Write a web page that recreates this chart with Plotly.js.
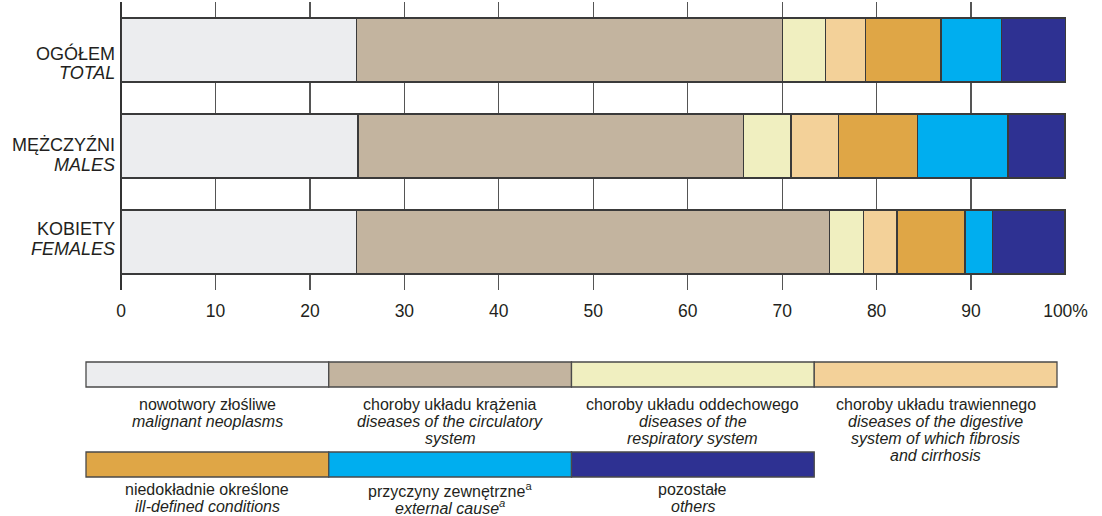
<!DOCTYPE html>
<html>
<head>
<meta charset="utf-8">
<script src="https://cdn.plot.ly/plotly-3.0.1.min.js"></script>
<style>
html,body{margin:0;padding:0;background:#fff;}
#chart{width:1102px;height:516px;}
</style>
</head>
<body>
<div id="chart"></div>
<script>
// ---- data ----
const categoriesPL = ['OGÓŁEM', 'MĘŻCZYŹNI', 'KOBIETY'];
const categoriesEN = ['TOTAL', 'MALES', 'FEMALES'];

const seriesPL = [
  'nowotwory złośliwe',
  'choroby układu krążenia',
  'choroby układu oddechowego',
  'choroby układu trawiennego',
  'niedokładnie określone',
  'przyczyny zewnętrzne<sup>a</sup>',
  'pozostałe'
];
const seriesEN = [
  ['malignant neoplasms'],
  ['diseases of the circulatory', 'system'],
  ['diseases of the', 'respiratory system'],
  ['diseases of the digestive', 'system of which fibrosis', 'and cirrhosis'],
  ['ill-defined conditions'],
  ['external cause<sup>a</sup>'],
  ['others']
];

// values per series: [total, males, females] in %
const neoplasms   = [24.9, 25.1, 24.9];
const circulatory = [45.1, 40.8, 50.1];
const respiratory = [4.55, 5.05, 3.6];
const digestive   = [4.3, 5.05, 3.55];
const illDefined  = [7.95, 8.35, 7.2];
const external    = [6.45, 9.55, 2.9];
const others      = [6.75, 6.05, 7.7];
const seriesValues = [neoplasms, circulatory, respiratory, digestive, illDefined, external, others];

const xTickVals = [0, 10, 20, 30, 40, 50, 60, 70, 80, 90, 100];
const xTickText = ['0', '10', '20', '30', '40', '50', '60', '70', '80', '90', '100%'];

// ---- styles ----
const colors = ['#ECEDEF', '#C3B49F', '#F0EFC0', '#F3D199', '#DFA646', '#00AEEF', '#2E3192'];
const FONT = 'Liberation Sans, Arial, Helvetica, sans-serif';
const TXT = '#231F20';

const W = 1102, H = 516;
const L = 121, R = 36, T = 2, B = 226;
const PW = W - L - R, PH = H - T - B;
const px2x = px => (px - L) / PW;
const py2y = py => (H - B - py) / PH;

const traces = seriesValues.map((vals, i) => ({
  type: 'bar',
  orientation: 'h',
  y: categoriesPL,
  x: vals,
  name: seriesPL[i],
  marker: {color: colors[i], line: {color: '#3a3a3a', width: 1.3}},
  width: 0.667,
  hoverinfo: 'x+name',
  showlegend: false
}));

const annotations = [];
const shapes = [];

// category labels (two lines)
const labelShift = [3.3, -0.6, -13.4];
categoriesPL.forEach((c, i) => {
  annotations.push({
    xref: 'paper', yref: 'y', x: px2x(117), y: i, xanchor: 'right', yanchor: 'middle',
    text: c, showarrow: false, yshift: -labelShift[i],
    font: {family: FONT, size: 18, color: TXT}
  });
  annotations.push({
    xref: 'paper', yref: 'y', x: px2x(117), y: i, xanchor: 'right', yanchor: 'middle',
    text: '<i>' + categoriesEN[i] + '</i>', showarrow: false, yshift: -labelShift[i] - 20,
    font: {family: FONT, size: 18, color: TXT}
  });
});

// custom legend
const boxW = (1057 - 86) / 4;
seriesPL.forEach((name, i) => {
  const row = i < 4 ? 0 : 1;
  const col = i < 4 ? i : i - 4;
  const x0 = 86 + col * boxW, x1 = x0 + boxW;
  const y0 = row === 0 ? 362 : 452, y1 = y0 + 25;
  shapes.push({
    type: 'rect', xref: 'paper', yref: 'paper',
    x0: px2x(x0), x1: px2x(x1), y0: py2y(y0), y1: py2y(y1),
    fillcolor: colors[i], line: {color: '#4a4a4a', width: 1.3}, layer: 'above'
  });
  const cx = (x0 + x1) / 2;
  const ty = row === 0 ? 404 : 489.5;
  const step = row === 0 ? 17.3 : 17.3;
  annotations.push({
    xref: 'paper', yref: 'paper', x: px2x(cx), y: py2y(ty), xanchor: 'center', yanchor: 'middle',
    text: name, showarrow: false, font: {family: FONT, size: 16, color: TXT}
  });
  seriesEN[i].forEach((ln, k) => {
    annotations.push({
      xref: 'paper', yref: 'paper', x: px2x(cx), y: py2y(ty + step * (k + 1)), xanchor: 'center', yanchor: 'middle',
      text: '<i>' + ln + '</i>', showarrow: false, font: {family: FONT, size: 16, color: TXT}
    });
  });
});

const layout = {
  width: W, height: H,
  margin: {l: L, r: R, t: T, b: B, pad: 0},
  paper_bgcolor: '#fff', plot_bgcolor: '#fff',
  barmode: 'stack',
  bargap: 0.333,
  showlegend: false,
  xaxis: {
    range: [0, 100.05],
    tickvals: xTickVals, ticktext: xTickText,
    showgrid: true, gridcolor: '#555', gridwidth: 1.2,
    zeroline: true, zerolinecolor: '#333', zerolinewidth: 1.3,
    showline: false, ticks: '',
    ticklabelstandoff: 8,
    tickfont: {family: FONT, size: 17.5, color: TXT},
    fixedrange: true
  },
  yaxis: {
    type: 'category',
    categoryorder: 'array', categoryarray: categoriesPL,
    range: [2.5, -0.5],
    showticklabels: false, showgrid: false, zeroline: false, showline: false, ticks: '',
    fixedrange: true
  },
  shapes: shapes,
  annotations: annotations
};

Plotly.newPlot('chart', traces, layout, {displayModeBar: false, staticPlot: true});
</script>
</body>
</html>
